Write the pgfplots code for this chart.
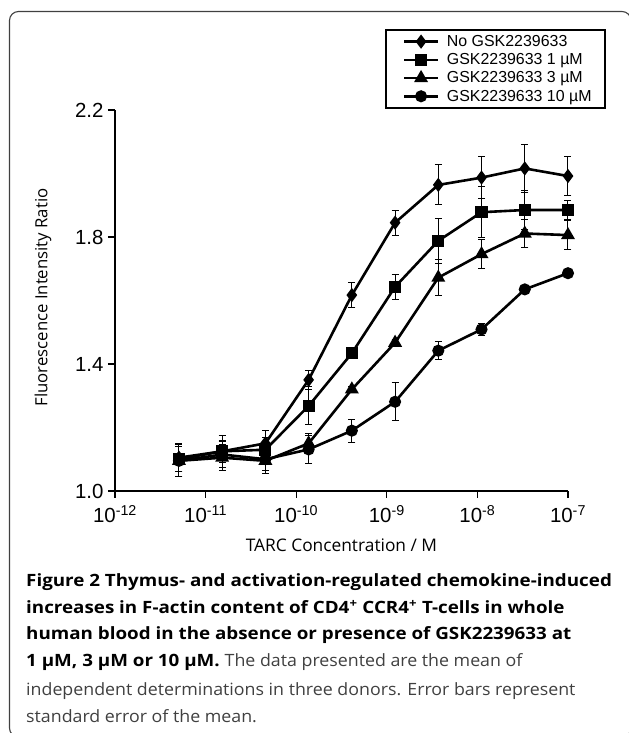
\documentclass[border=0pt]{standalone}
\usepackage{fontspec}
\setmainfont{Liberation Sans}
\newfontfamily\osans{Open Sans}
\newfontfamily\capbf[FakeStretch=1.11]{Open Sans}
\newfontfamily\caprm[FakeStretch=1.05]{Open Sans}
\usepackage{pgfplots}
\pgfplotsset{compat=1.18}
\usepackage{pgfplotstable}

% TARC concentration (M), mean ratio, SEM
\pgfplotstableread{
x y e
5.081e-12 1.105 0.045
1.524e-11 1.125 0.050
4.572e-11 1.150 0.040
1.372e-10 1.350 0.030
4.115e-10 1.617 0.040
1.235e-9  1.845 0.040
3.704e-9  1.964 0.063
1.111e-8  1.987 0.067
3.333e-8  2.016 0.075
1.000e-7  1.992 0.062
}\noGSK
\pgfplotstableread{
x y e
5.081e-12 1.100 0.040
1.524e-11 1.125 0.035
4.572e-11 1.130 0.040
1.372e-10 1.268 0.060
4.115e-10 1.434 0.015
1.235e-9  1.643 0.040
3.704e-9  1.788 0.070
1.111e-8  1.878 0.080
3.333e-8  1.885 0.060
1.000e-7  1.885 0.030
}\gskone
\pgfplotstableread{
x y e
5.081e-12 1.095 0.050
1.524e-11 1.105 0.040
4.572e-11 1.095 0.040
1.372e-10 1.150 0.030
4.115e-10 1.320 0.010
1.235e-9  1.467 0.010
3.704e-9  1.672 0.056
1.111e-8  1.746 0.045
3.333e-8  1.811 0.043
1.000e-7  1.806 0.046
}\gskthree
\pgfplotstableread{
x y e
5.081e-12 1.095 0.050
1.524e-11 1.115 0.040
4.572e-11 1.100 0.035
1.372e-10 1.131 0.043
4.115e-10 1.190 0.036
1.235e-9  1.281 0.060
3.704e-9  1.442 0.028
1.111e-8  1.509 0.020
3.333e-8  1.635 0.005
1.000e-7  1.686 0.005
}\gskten

\begin{document}
\begin{tikzpicture}
\useasboundingbox (0,0) rectangle (629bp,733bp);
\draw[line width=1.1bp, black!75, rounded corners=9bp] (9.5bp,-4bp) rectangle (631bp,721.5bp);

\begin{axis}[
  at={(115bp,242bp)}, anchor=south west,
  scale only axis, width=453bp, height=381bp,
  xmode=log, xmin=1e-12, xmax=1e-7, ymin=1.0, ymax=2.2,
  axis x line*=bottom, axis y line*=left,
  axis line style={line width=1.4bp},
  tick align=outside, major tick length=7bp, xminorticks=false,
  every tick/.style={black, line width=1.3bp},
  xtick={1e-12,1e-11,1e-10,1e-9,1e-8,1e-7},
  xticklabels={10\textsuperscript{-12},10\textsuperscript{-11},10\textsuperscript{-10},10\textsuperscript{-9},10\textsuperscript{-8},10\textsuperscript{-7}},
  ytick={1.0,1.4,1.8,2.2},
  yticklabels={1.0,1.4,1.8,2.2},
  ticklabel style={font=\fontsize{20.5}{20.5}\selectfont},
  xticklabel style={yshift=-4bp},
  yticklabel style={xshift=-1bp},
  xlabel={TARC Concentration / M},
  ylabel={Fluorescence Intensity Ratio},
  xlabel style={font=\osans\fontsize{17.4}{17.4}\selectfont, at={(axis description cs:0.5,-0.160)}, anchor=base},
  ylabel style={font=\osans\fontsize{16.8}{16.8}\selectfont, at={(axis description cs:-0.159,0.508)}, anchor=center},
  clip=false,
  legend style={at={(0.596,1.2126)}, anchor=north west, draw=black, line width=1.6bp,
    font=\fontsize{16}{16}\selectfont, inner xsep=12bp, inner ysep=4bp, row sep=2.6bp,
    nodes={inner sep=1.5bp}},
  legend cell align=left,
  legend image code/.code={\path (-5bp,0bp) (40bp,0bp);
    \draw[mark repeat=2,mark phase=2,#1] plot coordinates {(0bp,0bp) (17bp,0bp) (34bp,0bp)};},
  every axis plot/.append style={black, line width=2.6bp, mark options={solid, fill=black}},
  error bars/error bar style={line width=1bp, black},
  error bars/error mark options={line width=1bp, mark size=3.5bp, rotate=90},
]
\addplot[mark=diamond*, mark size=5bp, error bars/.cd, y dir=both, y explicit]
  table[x=x, y=y, y error=e] {\noGSK};
\addlegendentry{No GSK2239633}
\addplot[mark=square*, mark size=4.8bp, error bars/.cd, y dir=both, y explicit]
  table[x=x, y=y, y error=e] {\gskone};
\addlegendentry{GSK2239633 1 µM}
\addplot[mark=triangle*, mark size=5.5bp, error bars/.cd, y dir=both, y explicit]
  table[x=x, y=y, y error=e] {\gskthree};
\addlegendentry{GSK2239633 3 µM}
\addplot[mark=*, mark size=4.7bp, error bars/.cd, y dir=both, y explicit]
  table[x=x, y=y, y error=e] {\gskten};
\addlegendentry{GSK2239633 10 µM}
\end{axis}

\begin{scope}[every node/.style={anchor=base west, inner sep=0pt, font=\capbf\bfseries\fontsize{17}{17}\selectfont}]
\node at (26bp,146bp) {Figure 2 Thymus- and activation-regulated chemokine-induced};
\node at (26bp,119bp) {increases in F-actin content of CD4\textsuperscript{+} CCR4\textsuperscript{+} T-cells in whole};
\node at (26bp,93bp) {human blood in the absence or presence of GSK2239633 at};
\node at (26bp,66bp) {1 µM, 3 µM or 10 µM. \textcolor{black!75}{\caprm\mdseries The data presented are the mean of}};
\node[text=black!75, font=\caprm\fontsize{17}{17}\selectfont] at (26bp,38bp) {independent determinations in three donors. Error bars represent};
\node[text=black!75, font=\caprm\fontsize{17}{17}\selectfont] at (26bp,11bp) {standard error of the mean.};
\end{scope}
\end{tikzpicture}
\end{document}
